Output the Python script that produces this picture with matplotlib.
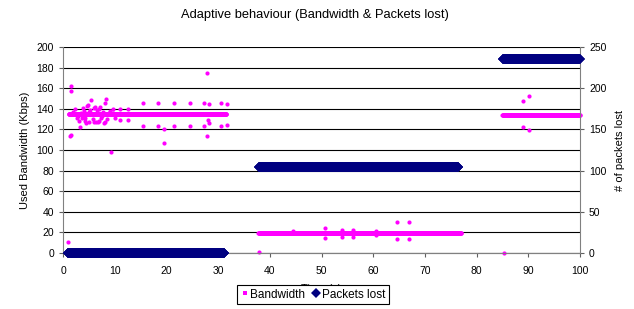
import matplotlib
matplotlib.use("Agg")
import matplotlib.pyplot as plt
import numpy as np

plt.rcParams["font.family"] = ["Liberation Sans", "DejaVu Sans"]

# steady bandwidth runs: (start s, end s, Kbps)
bw_runs = [(1.1, 31.6, 134.5), (37.8, 77.0, 19.0), (85.0, 100.0, 133.5)]
# scattered bandwidth samples (s, Kbps)
bw_t = [1.0, 1.45, 1.6, 1.3, 1.6, 2.4, 2.8, 3.2, 3.0, 3.6, 4.0, 4.3, 4.6, 4.8, 5.0, 5.0,
        5.5, 5.8, 6.0, 6.3, 6.6, 7.0, 7.0, 7.2, 7.4, 7.8, 8.1, 8.2, 8.4, 8.6, 9.0, 9.3,
        9.6, 11.0, 11.0, 12.6, 12.6, 15.4, 15.4, 18.3, 18.3, 19.6, 19.6, 21.4, 21.4,
        24.5, 24.5, 27.3, 27.3, 27.9, 27.8, 28.3, 28.0, 28.2, 30.5, 30.5, 31.8, 31.8,
        2.0, 2.9, 3.5, 4.2, 4.5, 5.2, 5.9, 6.5, 6.8, 7.6, 8.0, 8.8, 9.7, 10.0, 3.8, 6.2,
        38.0, 44.5, 50.7, 50.7, 53.9, 53.9, 56.1, 56.1, 60.5, 60.5, 64.7, 64.7,
        66.9, 66.9, 85.3, 88.9, 90.2, 88.9, 90.2]
bw_v = [10.3, 162, 157.5, 114, 115, 140, 131, 122.5, 128, 131, 138, 128, 143, 143.7, 137, 127.5,
        148.8, 130, 141, 127, 139, 128, 140, 142, 131, 137, 145.6, 127.5, 149.5, 130, 138, 97.7,
        136, 140, 128.7, 140, 128.7, 145.6, 123.6, 145.6, 123.6, 120.4, 106.8, 145.6, 123.6,
        145.6, 123.6, 145.6, 123.6, 174.4, 113.9, 145, 129, 126, 145.6, 123.6, 145, 124,
        137, 133, 136, 131, 126.5, 139, 127, 135.5, 127, 133, 126.5, 136, 140, 131, 141, 141.5,
        0.8, 21, 24, 14.6, 22, 16, 22, 16, 21, 17, 29.7, 13.6,
        29.7, 13.6, 0, 148, 152.5, 122, 119]
# packets lost plateaus: (start s, end s, packets)
loss_runs = [(0.9, 31.2, 0), (37.9, 76.5, 104), (85.1, 100.0, 236)]

step = 0.05

fig = plt.figure(figsize=(6.34, 3.09), dpi=100)
ax = fig.add_subplot(111)
fig.subplots_adjust(left=0.0994, right=0.9148, top=0.8479, bottom=0.1812)
ax2 = ax.twinx()

pink = "#FF00FF"
navy = "#000080"

# bandwidth
for t0, t1, v in bw_runs:
    tt = np.arange(t0, t1 + 1e-9, step)
    ax.plot(tt, np.full(len(tt), v), ls="none", marker="o", ms=3.0, mew=0,
            color=pink, zorder=3, clip_on=False)
ax.plot(bw_t, bw_v, ls="none", marker="o", ms=3.0, mew=0, color=pink, zorder=3,
        clip_on=False)
ax.plot([], [], ls="none", marker="s", ms=3.5, mew=0, color=pink, label="Bandwidth")

# packets lost
for t0, t1, v in loss_runs:
    tt = np.arange(t0, t1 + 1e-9, step)
    ax2.plot(tt, np.full(len(tt), v), ls="none", marker="D", ms=4.8, mew=0,
             color=navy, zorder=3, clip_on=False)
ax2.plot([], [], ls="none", marker="D", ms=5, mew=0, color=navy, label="Packets lost")

ax.set_xlim(0, 100)
ax.set_ylim(0, 200)
ax2.set_ylim(0, 250)
ax.set_xticks(np.arange(0, 101, 10))
ax.set_yticks(np.arange(0, 201, 20))
ax2.set_yticks(np.arange(0, 251, 50))

ax.yaxis.grid(True, color="black", lw=0.8)
ax.set_axisbelow(True)
for a in (ax, ax2):
    a.spines["top"].set_visible(False)
    a.spines["left"].set_color("#808080")
    a.spines["right"].set_color("#808080")
    a.spines["bottom"].set_color("#808080")
    a.tick_params(labelsize=7.5, length=3, color="#606060", width=0.8)
ax.tick_params(axis="x", pad=6)
ax2.spines["left"].set_visible(False)
ax.spines["right"].set_visible(False)

ax.set_title("Adaptive behaviour (Bandwidth & Packets lost)", fontsize=9.3, pad=21, x=0.488)
ax.set_ylabel("Used Bandwidth (Kbps)", fontsize=8, labelpad=5)
ax2.set_ylabel("# of packets lost", fontsize=8, labelpad=6)
ax.set_xlabel("Time (s)", fontsize=8, labelpad=6)

h1, l1 = ax.get_legend_handles_labels()
h2, l2 = ax2.get_legend_handles_labels()
leg = fig.legend(h1 + h2, l1 + l2, loc="lower center", bbox_to_anchor=(0.494, 0.008),
                 ncol=2, fontsize=8.5, frameon=True, fancybox=False, edgecolor="black",
                 handlelength=0.6, handletextpad=0.2, columnspacing=0.6,
                 borderpad=0.3, borderaxespad=0.2, framealpha=1)
leg.get_frame().set_linewidth(0.8)
leg.set_zorder(10)

fig.savefig("out.png", dpi=100)
